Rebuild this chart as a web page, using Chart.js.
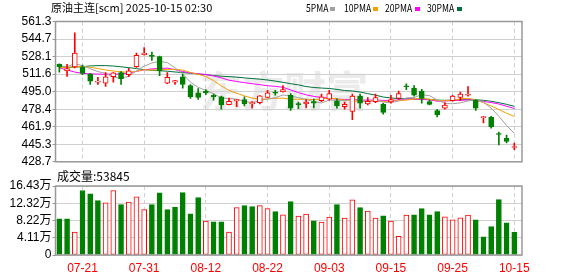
<!DOCTYPE html>
<html>
<head>
<meta charset="utf-8">
<script src="https://cdn.jsdelivr.net/npm/chart.js@4.4.1/dist/chart.umd.min.js"></script>
<style>
html, body { margin: 0; padding: 0; background: #fff; }
#wrap { position: relative; width: 578px; height: 276px; overflow: hidden; font-family: "Noto Sans CJK SC", "Liberation Sans", sans-serif; }
#wrap canvas { position: absolute; left: 0; }
#kline { top: 0; }
#vol { top: 170px; }
.txt { position: absolute; white-space: nowrap; color: #000; }
#title { left: 51px; top: 1px; font-size: 11px; line-height: 13px; }
.lg { position: absolute; top: 1px; font-size: 11px; line-height: 13px; transform: scaleX(0.78); transform-origin: left top; }
.sw { position: absolute; top: 7px; width: 5px; height: 4px; }
#voltitle { left: 57px; top: 169px; font-size: 12px; line-height: 14px; }
#wm { left: 200px; top: 58px; font-size: 42px; font-weight: bold; color: #ebebeb; }
</style>
</head>
<body>
<div id="wrap">
  <div id="wm" class="txt">东方财富</div>
  <canvas id="kline" width="578" height="170"></canvas>
  <canvas id="vol" width="578" height="106"></canvas>
  <div id="title" class="txt">原油主连[scm] 2025-10-15 02:30</div>
  <div id="legend"></div>
  <div id="voltitle" class="txt">成交量:53845</div>
</div>
<script>
// trading days shown
var dates = ['07-16','07-17','07-18','07-21','07-22','07-23','07-24','07-25','07-28','07-29','07-30','07-31',
  '08-01','08-04','08-05','08-06','08-07','08-08','08-11','08-12','08-13','08-14','08-15','08-18','08-19','08-20','08-21','08-22',
  '08-25','08-26','08-27','08-28','08-29','09-01','09-02','09-03','09-04','09-05','09-08','09-09','09-10','09-11','09-12','09-15',
  '09-16','09-17','09-18','09-19','09-22','09-23','09-24','09-25','09-26','09-29','09-30','10-09','10-10','10-13','10-14','10-15'];

var open  = [520.8,514.7,518.3,518.3,511.6,504.0,503.0,509.1,513.1,511.0,518.6,530.0,529.4,528.2,503.0,503.9,509.1,500.8,493.8,495.3,
  491.6,490.1,482.7,486.3,487.6,483.7,484.6,489.5,494.0,494.7,491.6,483.2,483.3,485.5,486.4,488.0,486.1,480.9,476.3,490.7,
  483.3,485.5,483.0,485.2,488.6,500.2,498.4,495.6,485.5,477.2,479.4,486.4,489.5,491.6,487.0,470.5,470.8,455.1,450.8,442.2];
var high  = [521.2,520.8,550.6,520.0,512.2,508.5,513.1,513.1,514.0,517.1,531.5,536.7,532.5,528.5,513.1,505.6,511.6,501.8,497.8,496.9,
  492.6,490.7,488.9,487.8,490.1,485.5,491.3,496.2,496.2,500.8,493.2,485.2,487.6,488.3,492.6,496.2,488.3,485.2,492.6,492.6,
  489.5,492.6,484.0,491.6,495.6,502.4,500.8,497.2,487.0,478.4,484.6,491.6,494.7,499.9,487.6,471.7,471.7,456.9,453.9,446.5];
var low   = [513.5,509.4,517.5,511.0,501.8,501.8,499.9,503.9,501.8,509.1,518.0,529.4,524.5,510.0,502.5,501.8,498.4,488.6,487.6,492.2,
  487.0,478.4,482.4,480.9,481.5,479.4,483.3,489.2,491.6,494.4,477.2,479.0,479.7,479.7,485.5,487.0,479.4,478.4,468.6,479.4,
  482.4,484.6,473.8,484.0,487.6,496.9,490.7,484.0,482.4,471.1,478.4,486.0,486.4,490.7,477.2,465.5,460.6,444.7,446.5,440.1];
var close = [518.3,516.8,531.5,512.2,504.8,504.4,509.1,512.8,507.0,514.6,529.4,531.5,528.2,514.6,508.5,505.4,501.8,490.1,489.5,494.1,
  490.1,482.4,485.8,487.6,483.3,484.2,491.0,493.8,493.6,496.9,479.4,482.8,485.2,484.0,490.1,493.2,481.5,483.0,490.7,484.0,
  485.8,489.5,475.4,487.6,493.2,499.6,491.6,488.6,483.0,473.2,482.4,490.7,492.6,492.2,479.4,471.0,461.9,454.5,448.0,442.8];

var ma5  = [519.5,518.5,521.5,519.5,516.7,513.9,512.4,508.7,507.6,509.6,514.6,519.1,522.1,523.7,522.4,517.6,511.7,504.1,499.1,496.2,
  493.1,489.2,488.4,488.0,485.8,484.7,486.4,488.0,489.2,491.9,490.9,489.3,487.6,485.7,484.3,487.1,486.8,486.4,487.7,486.5,
  485.0,486.6,485.1,484.5,486.3,489.1,489.5,492.1,491.2,487.2,483.8,483.6,484.4,486.2,487.5,485.2,479.4,471.8,463.0,455.6];
var ma10 = [517.5,518.0,518.5,519.0,518.0,516.8,515.5,514.5,513.8,513.2,514.3,515.7,515.4,515.6,516.0,516.1,515.4,513.1,511.4,509.3,
  505.4,500.5,496.2,493.5,491.0,488.9,487.8,488.2,488.6,488.9,487.8,487.8,487.8,487.4,488.1,489.0,488.1,487.0,486.7,485.4,
  486.0,486.7,485.7,486.1,486.4,487.0,488.0,488.6,487.8,486.8,486.4,486.5,488.3,488.7,487.3,484.5,481.5,478.1,474.6,471.6];
var ma20 = [517.5,515.5,513.5,512.3,511.8,511.6,511.5,511.5,511.7,512.5,514.2,515.6,516.5,517.0,517.2,515.8,514.0,512.7,511.9,511.2,
  509.8,508.1,505.8,504.6,503.5,502.5,501.6,500.6,500.0,499.1,496.6,494.1,492.0,490.5,489.5,488.9,487.9,487.6,487.6,487.1,
  486.9,487.2,486.7,486.7,487.2,488.0,488.0,487.7,487.2,486.0,486.2,486.6,486.9,487.3,486.8,485.7,484.7,483.3,481.2,479.1];
var ma30 = [518.5,518.0,518.2,518.6,519.3,519.6,519.6,519.2,518.5,517.7,516.8,515.8,515.2,514.8,514.3,513.6,513.0,512.4,511.7,511.0,
  510.2,509.6,509.2,508.7,508.0,507.4,506.8,506.0,505.0,503.8,502.5,501.4,499.8,498.9,498.4,498.0,497.1,496.1,495.6,494.6,
  493.1,491.7,489.9,489.0,488.5,488.3,488.0,487.9,487.7,487.0,486.8,487.0,487.3,487.4,487.3,486.8,485.9,484.6,483.0,481.2];

var volume = [86300,86300,54400,153500,145500,129500,124000,153500,119900,126300,138300,107900,119900,147900,107900,113500,148700,98300,136700,80700,
  79100,79100,54400,112700,117500,115100,117500,110300,103100,95900,127100,92700,97500,81500,78300,90300,119900,87900,131100,112700,
  104700,87900,93500,80700,44700,95100,95900,110300,95900,103100,91100,83900,88700,95100,83900,43200,67900,131900,76700,53845];
var volUp = [0,0,1,0,0,0,1,1,0,1,1,1,0,0,0,0,0,0,0,1,
  0,0,1,1,0,0,1,1,0,1,0,1,1,0,1,1,0,1,1,0,
  1,1,0,1,1,1,0,0,0,0,1,1,1,1,0,0,0,0,0,0];

var xTickLabels = ['07-21','07-31','08-12','08-22','09-03','09-15','09-25','10-15'];
var priceTicks = ['428.7','445.3','461.9','478.4','495.0','511.6','528.1','544.7','561.3'];
var volTicks = ['0','4.11万','8.22万','12.32万','16.43万'];
var volMax = 164300;

var maNames = ['5PMA','10PMA','20PMA','30PMA'];
var maColors = ['#a0a0a0','#f5a000','#ff00ff','#00703a'];
var maData = [ma5, ma10, ma20, ma30];

var RED = '#ff0000', GREEN = '#008000';
var FONT = "'Liberation Sans', 'Noto Sans CJK SC', sans-serif";

var idx = dates.map(function(d, i){ return i; });
var tickIdx = xTickLabels.map(function(l){ return dates.indexOf(l); });

function xScale(showLabels){
    return {
        type: 'linear',
        min: -0.5,
        max: 60,
        offset: false,
        afterBuildTicks: function(s){
            s.ticks = tickIdx.map(function(v){ return {value: v}; });
        },
        afterFit: function(s){ s.height = showLabels ? 21 : 0; },
        grid: { color: '#d0d0d0', drawTicks: false, offset: false },
        border: { display: false, dash: [4, 3] },
        ticks: {
            display: showLabels, autoSkip: false, maxRotation: 0, padding: 6,
            color: RED, font: { family: FONT, size: 12 },
            callback: function(v, i){ return xTickLabels[i]; }
        }
    };
}

function yScale(labels, min, max){
    return {
        min: min,
        max: max,
        afterBuildTicks: function(s){
            s.ticks = labels.map(function(l, i){
                return {value: min + i * (max - min) / (labels.length - 1)};
            });
        },
        afterFit: function(s){ s.width = 55.5; },
        grid: { color: '#d0d0d0', tickLength: 3, tickColor: '#999' },
        border: { display: false },
        ticks: {
            color: '#000', padding: 1, autoSkip: false, font: { family: FONT, size: 12 },
            callback: function(v, i){ return labels[i]; }
        }
    };
}

var framePlugin = {
    id: 'frame',
    afterDraw: function(chart){
        var a = chart.chartArea, ctx = chart.ctx;
        ctx.save();
        ctx.strokeStyle = '#999';
        ctx.lineWidth = 1.5;
        ctx.strokeRect(a.left, a.top, a.right - a.left, a.bottom - a.top);
        ctx.restore();
    }
};

var baseOptions = function(padTop, padBottom, yOpts, showLabels){
    return {
        responsive: false,
        animation: false,
        events: [],
        layout: { padding: { left: 0, right: 56, top: padTop, bottom: padBottom } },
        scales: { x: xScale(showLabels), y: yOpts },
        plugins: { legend: { display: false }, tooltip: { enabled: false } }
    };
};

// candles + moving averages
var kDatasets = [
    {
        type: 'bar', label: 'body', order: 0, grouped: false,
        data: idx.map(function(i){ return {x: i, y: [open[i], close[i]]}; }),
        backgroundColor: idx.map(function(i){ return close[i] >= open[i] ? '#fff' : GREEN; }),
        borderColor: idx.map(function(i){ return close[i] >= open[i] ? RED : GREEN; }),
        borderWidth: 1, borderSkipped: false, barThickness: 5, minBarLength: 1
    },
    {
        type: 'bar', label: 'wick', order: 1, grouped: false,
        data: idx.map(function(i){ return {x: i, y: [low[i], high[i]]}; }),
        backgroundColor: idx.map(function(i){ return close[i] >= open[i] ? RED : GREEN; }),
        barThickness: 1
    }
];
maData.forEach(function(arr, k){
    kDatasets.push({
        type: 'line', label: maNames[k], order: 2,
        data: idx.map(function(i){ return {x: i, y: arr[i]}; }),
        borderColor: maColors[k], borderWidth: 1, pointRadius: 0, tension: 0, fill: false
    });
});

new Chart(document.getElementById('kline'), {
    type: 'bar',
    data: { datasets: kDatasets },
    options: baseOptions(21.5, 5, yScale(priceTicks, Number(priceTicks[0]), Number(priceTicks[priceTicks.length - 1])), false),
    plugins: [framePlugin]
});

new Chart(document.getElementById('vol'), {
    type: 'bar',
    data: {
        datasets: [{
            label: 'volume', grouped: false,
            data: idx.map(function(i){ return {x: i, y: volume[i]}; }),
            backgroundColor: idx.map(function(i){ return volUp[i] ? '#fff' : GREEN; }),
            borderColor: idx.map(function(i){ return volUp[i] ? RED : GREEN; }),
            borderWidth: 1, borderSkipped: false, barThickness: 5
        }]
    },
    options: baseOptions(16, 0, yScale(volTicks, 0, volMax), true),
    plugins: [framePlugin]
});

// legend row
var lgX = [306, 344, 385, 427], swX = [330, 373, 415, 457];
var lg = document.getElementById('legend');
maNames.forEach(function(n, k){
    var t = document.createElement('div');
    t.className = 'lg';
    t.style.left = lgX[k] + 'px';
    t.textContent = n;
    lg.appendChild(t);
    var s = document.createElement('div');
    s.className = 'sw';
    s.style.left = swX[k] + 'px';
    s.style.background = maColors[k];
    lg.appendChild(s);
});
</script>
</body>
</html>
